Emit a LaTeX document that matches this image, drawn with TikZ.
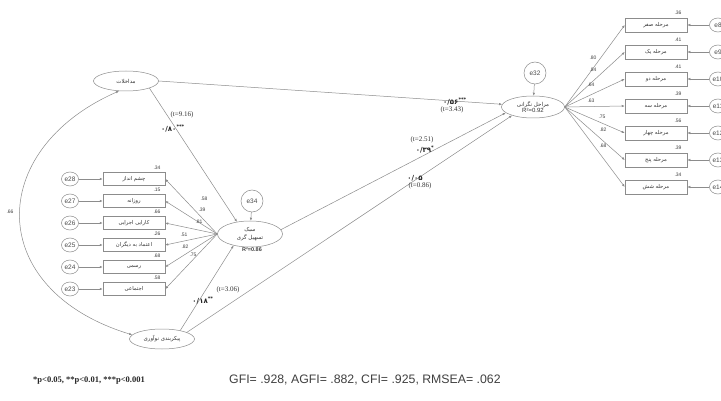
\documentclass[tikz,border=0pt]{standalone}
\usepackage{fontspec}
\setmainfont{Liberation Serif}
\setsansfont{Liberation Sans}
\newfontfamily\fa[Script=Arabic]{DejaVu Sans}
\newfontfamily\fanum{DejaVu Sans}
\TeXXeTstate=1
\usetikzlibrary{shapes.geometric,arrows.meta}
\newcommand{\fatxt}[1]{{\fa\beginR #1\endR}}
\begin{document}
\begin{tikzpicture}[x=1pt,y=-1pt,
  line/.style={draw=black!45,line width=0.5pt},
  arr/.style={line,-{Latex[length=3pt,width=2.4pt]}},
  darr/.style={line,{Latex[length=3pt,width=2.4pt]}-{Latex[length=3pt,width=2.4pt]}},
  lat/.style={ellipse,draw=black!45,line width=0.5pt,inner sep=0pt,minimum width=65pt,minimum height=20pt,align=center,text=black!80,font=\fontsize{5.5}{6.5}\selectfont},
  ind/.style={rectangle,draw=black!45,line width=0.5pt,minimum width=62pt,minimum height=13pt,inner sep=0pt,text=black!80,font=\fontsize{5.3}{6}\selectfont},
  err/.style={ellipse,draw=black!45,line width=0.5pt,minimum width=17pt,minimum height=14pt,inner sep=0pt,font=\sffamily\fontsize{6.5}{7}\selectfont,text=black!70},
  num/.style={font=\sffamily\fontsize{5}{6}\selectfont,text=black!75,inner sep=0pt},
  tval/.style={font=\rmfamily\fontsize{7}{8}\selectfont,text=black!80,inner sep=0pt},
  coef/.style={font=\fanum\bfseries\fontsize{7}{8}\selectfont,text=black!85,inner sep=0pt},
]
\useasboundingbox[fill=white] (0,0) rectangle (721,401);

% latent variables
\node[lat] (inter) at (126,81) {\fatxt{مداخلات}};
\node[lat,minimum height=26pt] (style) at (250,234) {\fatxt{سبک}\\[1pt]\fatxt{تسهیل گری}};
\node[num,font=\sffamily\bfseries\fontsize{5.5}{6}\selectfont] (r2s) at (252,250) {R²=0.86};
\node[lat] (innov) at (162,339) {\fatxt{پیکربندی نوآوری}};
\node[lat,minimum width=63pt,minimum height=22pt] (concern) at (533,107) {\fatxt{مراحل نگرانی}\\{\sffamily\fontsize{6}{7}\selectfont R²=0.92}};
\node[err,minimum width=22pt,minimum height=22pt] (e32) at (535,73) {e32};
\node[err,minimum width=22pt,minimum height=22pt] (e34) at (252,201) {e34};
\draw[arr] (e32) -- (concern);
\draw[arr] (e34) -- (style);

% left indicators
\foreach \i/\y/\t/\r/\e/\l/\lx/\ly in {
  1/179/چشم انداز/.34/28/.58/204/199,
  2/201/روزانه/.15/27/.39/202/210,
  3/223/کارایی اجرایی/.66/26/.81/199/222,
  4/245/اعتماد به دیگران/.26/25/.51/184/235,
  5/267/رسمی/.68/24/.82/185/247,
  6/289/اجتماعی/.58/23/.75/193/255}{
  \node[ind] (L\i) at (134,\y) {\fatxt{\t}};
  \node[num] (LR\i) at (157,\y-11) {\r};
  \node[err] (LE\i) at (70,\y) {e\e};
  \draw[arr] (LE\i) -- (L\i.west);
  \draw[arr] (style.west) -- (L\i.east);
  \node[num] (LL\i) at (\lx,\ly) {\l};
}

% right indicators
\foreach \i/\y/\t/\r/\e/\l/\lx/\ly in {
  1/25/مرحله صفر/.36/8/.80/593/58,
  2/52/مرحله یک/.41/9/.84/593/70,
  3/79/مرحله دو/.41/10/.64/591/85,
  4/106/مرحله سه/.39/11/.63/591/101,
  5/133/مرحله چهار/.56/12/.75/602/117,
  6/160/مرحله پنج/.39/13/.82/603/130,
  7/187/مرحله شش/.34/14/.68/603/146}{
  \node[ind,minimum height=14pt] (R\i) at (656,\y) {\fatxt{\t}};
  \node[num] (RR\i) at (678,\y-12) {\r};
  \node[err] (RE\i) at (718,\y) {e\e};
  \draw[arr] (RE\i) -- (R\i.east);
  \draw[arr] (concern.east) -- (R\i.west);
  \node[num] (RL\i) at (\lx,\ly) {\l};
}

% structural paths
\draw[arr] (inter.east) -- (concern.175);
\draw[arr] (inter.-17) -- (style.137);
\draw[arr] (style.8) -- (concern.192);
\draw[arr] (innov.15) -- (concern.202);
\draw[arr] (innov.25) -- (style.215);
\draw[darr] (inter.235) .. controls (-15,150) and (-15,290) .. (innov.172);

\node[num] (cov) at (10,212) {.66};

\node[tval] (t1) at (182,115) {(t=9.16)};
\node[coef] (c1) at (173,128) {۰/۸۰\textsuperscript{***}};
\node[coef] (c2) at (455,101) {۰/۵۶\textsuperscript{***}};
\node[tval] (t2) at (452,110) {(t=3.43)};
\node[tval] (t3) at (422,140) {(t=2.51)};
\node[coef] (c3) at (425,149) {۰/۳۹\textsuperscript{*}};
\node[coef] (c4) at (415,178) {۰/۰۵};
\node[tval] (t4) at (420,186) {(t=0.86)};
\node[tval] (t5) at (228,290) {(t=3.06)};
\node[coef] (c5) at (203,300) {۰/۱۸\textsuperscript{**}};

% footer
\node[font=\rmfamily\bfseries\fontsize{8.5}{9}\selectfont,text=black!85,anchor=west,inner sep=0pt] (foot) at (33,381) {*p<0.05, **p<0.01, ***p<0.001};
\node[font=\sffamily\fontsize{12.3}{14}\selectfont,text=black!75,anchor=west,inner sep=0pt] (fit) at (229,380) {GFI= .928, AGFI= .882, CFI= .925, RMSEA= .062};
\end{tikzpicture}
\end{document}
